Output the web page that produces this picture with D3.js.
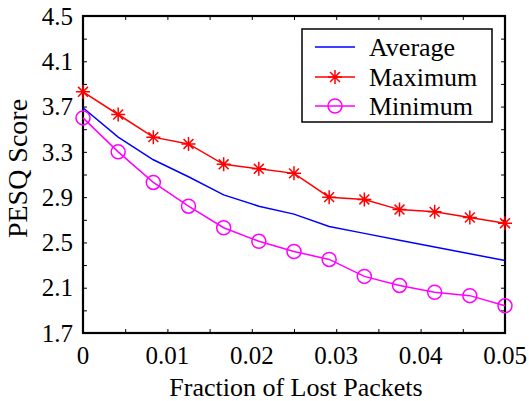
<!DOCTYPE html>
<html>
<head>
<meta charset="utf-8">
<script src="https://cdn.jsdelivr.net/npm/d3@7"></script>
<style>
  body { margin: 0; background: #fff; }
  text { font-family: "Liberation Serif", "Times New Roman", serif; fill: #000; }
</style>
</head>
<body>
<div id="chart"></div>
<script>
// loss fractions (x), PESQ scores per series
var lossFrac = [0, 0.05/12, 0.1/12, 0.15/12, 0.2/12, 0.25/12, 0.3/12, 0.35/12, 0.4/12, 0.45/12, 0.5/12, 0.55/12, 0.05];
var avgScore = [3.69, 3.43, 3.23, 3.08, 2.92, 2.82, 2.75, 2.64, 2.58, 2.52, 2.46, 2.40, 2.34];
var maxScore = [3.83, 3.63, 3.43, 3.37, 3.19, 3.15, 3.11, 2.90, 2.88, 2.79, 2.77, 2.72, 2.67];
var minScore = [3.60, 3.30, 3.03, 2.82, 2.63, 2.51, 2.42, 2.35, 2.20, 2.12, 2.06, 2.03, 1.94];
var seriesNames = ["Average", "Maximum", "Minimum"];
var yLabels = [1.7, 2.1, 2.5, 2.9, 3.3, 3.7, 4.1, 4.5];
var xLabels = [0, 0.01, 0.02, 0.03, 0.04, 0.05];

var W = 529, H = 401;
var margin = {top: 16, right: 24, bottom: 68, left: 83};
var width = W - margin.left - margin.right,
    height = H - margin.top - margin.bottom;

var svg = d3.select("#chart").append("svg")
  .attr("width", W).attr("height", H)
  .append("g")
  .attr("transform", "translate(" + margin.left + "," + margin.top + ")");

var x = d3.scaleLinear().domain([0, 0.05]).range([0, width]);
var y = d3.scaleLinear().domain([1.7, 4.5]).range([height, 0]);

var fs = 25;      // tick labels
var fsTitle = 26; // axis titles, legend
var tickLen = 4;
var yTicks = d3.range(1.7, 4.51, 0.2);
var xTicks = d3.range(0, 0.0501, 0.005);

// inward ticks on all four sides
svg.append("g").attr("transform", "translate(0," + height + ")")
  .call(d3.axisBottom(x).tickValues(xTicks).tickSize(-tickLen).tickFormat(""))
  .call(g => g.select(".domain").remove());
svg.append("g")
  .call(d3.axisTop(x).tickValues(xTicks).tickSize(-tickLen).tickFormat(""))
  .call(g => g.select(".domain").remove());
svg.append("g")
  .call(d3.axisLeft(y).tickValues(yTicks).tickSize(-tickLen).tickFormat(""))
  .call(g => g.select(".domain").remove());
svg.append("g").attr("transform", "translate(" + width + ",0)")
  .call(d3.axisRight(y).tickValues(yTicks).tickSize(-tickLen).tickFormat(""))
  .call(g => g.select(".domain").remove());
svg.selectAll(".tick line").attr("stroke", "#000").attr("stroke-width", 1);

// tick labels
svg.selectAll(".ylab").data(yLabels).enter().append("text")
  .attr("x", -10).attr("y", d => y(d)).attr("dy", "0.35em")
  .attr("text-anchor", "end").attr("font-size", fs)
  .text(d => d.toFixed(1));
svg.selectAll(".xlab").data(xLabels).enter().append("text")
  .attr("x", d => x(d)).attr("y", height + 31)
  .attr("text-anchor", "middle").attr("font-size", fs)
  .text(d => d === 0 ? "0" : d.toFixed(2));

// frame
svg.append("rect").attr("width", width).attr("height", height)
  .attr("fill", "none").attr("stroke", "#000").attr("stroke-width", 2.2);

// axis titles
svg.append("text").attr("x", width / 2 + 2).attr("y", height + 63)
  .attr("text-anchor", "middle").attr("font-size", fsTitle)
  .text("Fraction of Lost Packets");
svg.append("text")
  .attr("transform", "translate(" + (-56) + "," + (height / 2 - 6) + ") rotate(-90)")
  .attr("text-anchor", "middle").attr("font-size", 28)
  .text("PESQ Score");

function pts(vals) { return vals.map((v, i) => [x(lossFrac[i]), y(v)]); }
var line = d3.line();
function starPath(r) {
  var d = "";
  for (var k = 0; k < 4; k++) {
    var a = k * Math.PI / 4;
    d += "M" + (-r * Math.cos(a)) + "," + (-r * Math.sin(a)) + "L" + (r * Math.cos(a)) + "," + (r * Math.sin(a));
  }
  return d;
}

svg.append("path").attr("d", line(pts(avgScore)))
  .attr("fill", "none").attr("stroke", "#0000ff").attr("stroke-width", 1.5);

svg.append("path").attr("d", line(pts(maxScore)))
  .attr("fill", "none").attr("stroke", "#ff0000").attr("stroke-width", 1.5);
svg.selectAll(".star").data(pts(maxScore)).enter().append("path")
  .attr("transform", d => "translate(" + d[0] + "," + d[1] + ")")
  .attr("d", starPath(7)).attr("stroke", "#ff0000").attr("stroke-width", 1.5);

svg.append("path").attr("d", line(pts(minScore)))
  .attr("fill", "none").attr("stroke", "#ff00ff").attr("stroke-width", 1.5);
svg.selectAll(".circ").data(pts(minScore)).enter().append("circle")
  .attr("cx", d => d[0]).attr("cy", d => d[1]).attr("r", 7)
  .attr("fill", "none").attr("stroke", "#ff00ff").attr("stroke-width", 1.5);

// legend
var lg = svg.append("g").attr("transform", "translate(" + (302 - margin.left) + "," + (29 - margin.top) + ")");
lg.append("rect").attr("width", 190).attr("height", 93)
  .attr("fill", "#fff").attr("stroke", "#000").attr("stroke-width", 1.5);
var rowY = [18, 48, 77];
var colors = ["#0000ff", "#ff0000", "#ff00ff"];
seriesNames.forEach(function(name, i) {
  var row = lg.append("g").attr("transform", "translate(0," + rowY[i] + ")");
  row.append("line").attr("x1", 13).attr("x2", 53)
    .attr("stroke", colors[i]).attr("stroke-width", 1.5);
  if (i === 1) row.append("path").attr("transform", "translate(33,0)")
    .attr("d", starPath(7)).attr("stroke", colors[i]).attr("stroke-width", 1.5);
  if (i === 2) row.append("circle").attr("cx", 33).attr("r", 7)
    .attr("fill", "none").attr("stroke", colors[i]).attr("stroke-width", 1.5);
  row.append("text").attr("x", 67).attr("dy", "0.35em").attr("font-size", fsTitle).text(name);
});
</script>
</body>
</html>
